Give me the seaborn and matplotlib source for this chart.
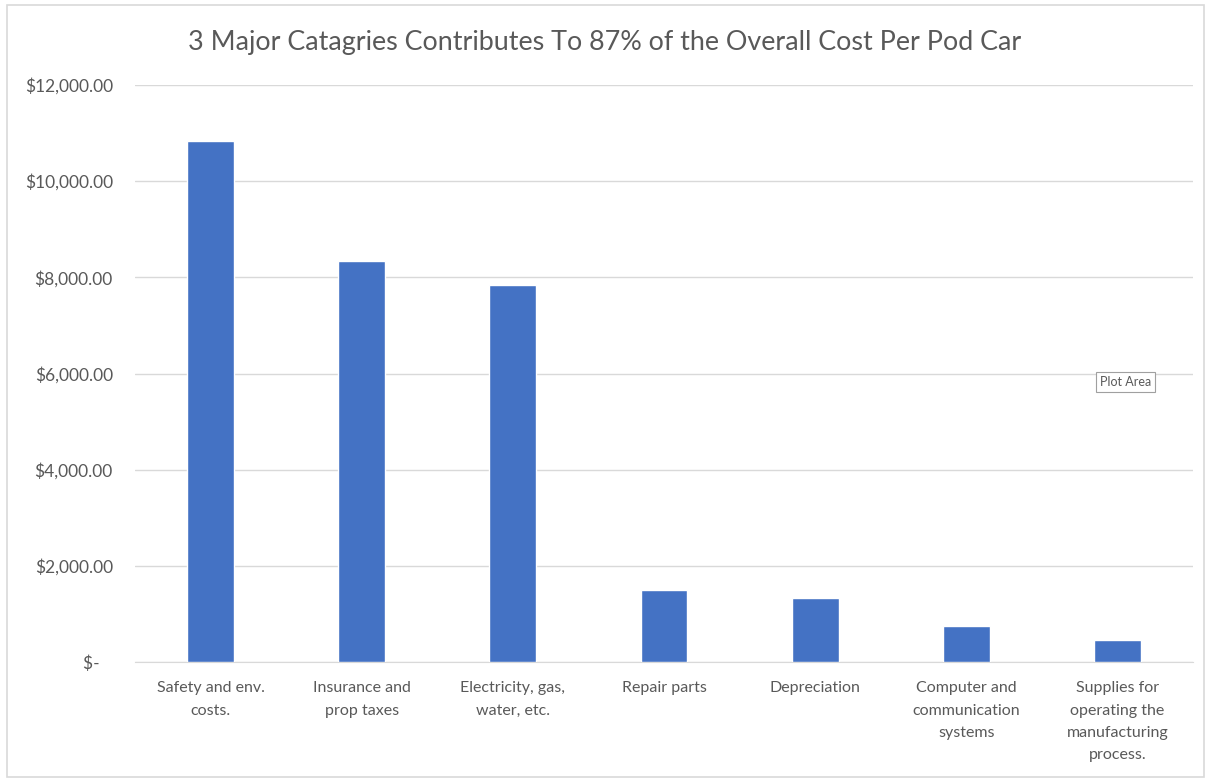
import numpy as np
import pandas as pd
import matplotlib.pyplot as plt
import matplotlib.ticker as mticker
from matplotlib.patches import Rectangle
import seaborn as sns

# data
categories = ["Safety and env.\ncosts.", "Insurance and\nprop taxes", "Electricity, gas,\nwater, etc.",
              "Repair parts", "Depreciation", "Computer and\ncommunication\nsystems",
              "Supplies for\noperating the\nmanufacturing\nprocess."]
costs = [10840, 8340, 7840, 1500, 1335, 740, 450]

df = pd.DataFrame({"category": categories, "cost": costs})

sns.set_style("white")
plt.rcParams['font.family'] = ['Lato', 'DejaVu Sans']
grey = "#595959"

fig = plt.figure(figsize=(12.09, 7.8), dpi=100)
ax = fig.add_axes([0.1117, 0.1513, 0.875, 0.7397])

sns.barplot(data=df, x="category", y="cost", color="#4472C4", saturation=1,
            width=0.31, ax=ax, zorder=3)

ax.set_ylim(0, 12000)
ax.set_yticks(np.arange(0, 12001, 2000))
def money(v, pos):
    if v == 0:
        return "$-\u00a0\u00a0\u00a0"
    return "${:,.2f}".format(v)
ax.yaxis.set_major_formatter(mticker.FuncFormatter(money))
ax.grid(axis="y", color="#D9D9D9", linewidth=1, zorder=0)
for s in ["top", "right", "left"]:
    ax.spines[s].set_visible(False)
ax.spines["bottom"].set_color("#D9D9D9")
ax.tick_params(axis="both", length=0, colors=grey)
ax.tick_params(axis="y", pad=16, labelsize=12.5)
ax.tick_params(axis="x", pad=14, labelsize=11.5)
for lab in ax.get_xticklabels():
    lab.set_linespacing(1.75)
    lab.set_verticalalignment("top")
ax.set_xlabel("")
ax.set_ylabel("")

fig.text(0.5, 0.946, "3 Major Catagries Contributes To 87% of the Overall Cost Per Pod Car",
         ha="center", va="center", fontsize=19.4, color=grey)

# excel hover tooltip
fig.text(0.931, 0.51, "Plot Area", fontsize=9, color=grey, ha="center", va="center",
         bbox=dict(boxstyle="square,pad=0.3", fc="white", ec="#A0A0A0", lw=0.8))

# chart frame
fig.patches.append(Rectangle((0.006, 0.004), 0.99, 0.989, transform=fig.transFigure,
                             fill=False, ec="#D9D9D9", lw=1.2))

fig.savefig("out.png", dpi=100)
